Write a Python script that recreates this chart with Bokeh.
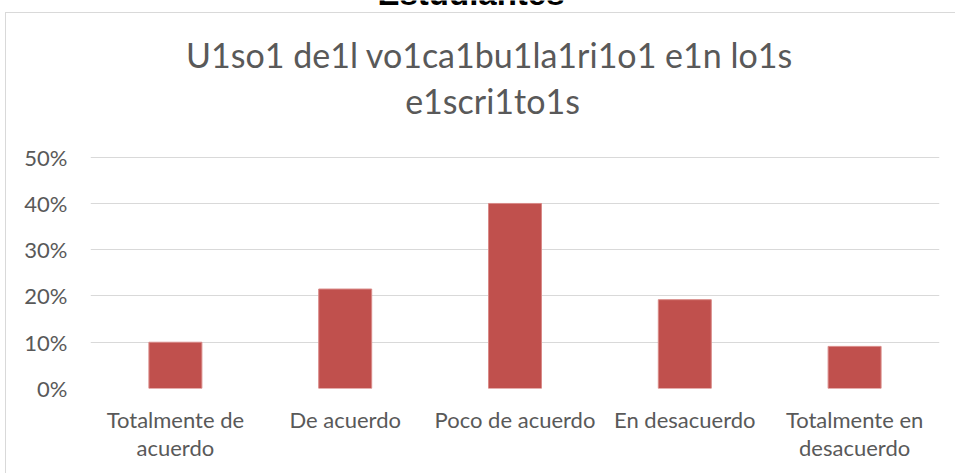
from bokeh.plotting import figure
from bokeh.models import (FactorRange, Range1d, FixedTicker, NumeralTickFormatter,
                          Label, ColumnDataSource)
from bokeh.embed import file_html
from bokeh.resources import INLINE

categories = ["Totalmente de\nacuerdo", "De acuerdo", "Poco de acuerdo",
              "En desacuerdo", "Totalmente en\ndesacuerdo"]
values = [0.10, 0.215, 0.40, 0.192, 0.091]
y_ticks = [0, 0.1, 0.2, 0.3, 0.4, 0.5]
title_lines = ["U1so1 de1l vo1ca1bu1la1ri1o1 e1n lo1s", "e1scri1to1s"]
top_title = "Estudiantes"

FONT = "Lato"
GREY = "#595959"
BORDER = "#d9d9d9"

W, H = 955, 473
LEFT, RIGHT, BOTTOM_PX = 90, 939, 388
PX_PER_TENTH = 46.26
y_top = BOTTOM_PX / (PX_PER_TENTH * 10)

p = figure(x_range=FactorRange(factors=categories, range_padding=0),
           y_range=Range1d(0, y_top),
           width=W, height=H, output_backend="svg", toolbar_location=None,
           min_border_left=LEFT, min_border_right=W - RIGHT, min_border_top=0,
           min_border_bottom=H - BOTTOM_PX)
p.border_fill_color = None
p.background_fill_color = None
p.styles = {
    "background": (f"linear-gradient({BORDER},{BORDER}) 5px 12px / 960px 1px no-repeat, "
                   f"linear-gradient({BORDER},{BORDER}) 5px 12px / 1px 470px no-repeat, white")
}

src = ColumnDataSource(dict(x=categories, top=values))
p.vbar(x="x", top="top", width=0.312, source=src, fill_color="#c0504d",
       line_color="#d98a88", line_width=1)

p.outline_line_color = None
p.xgrid.grid_line_color = None
p.ygrid.grid_line_color = BORDER
p.ygrid.grid_line_width = 1
p.ygrid.ticker = FixedTicker(ticks=y_ticks)

p.yaxis.ticker = FixedTicker(ticks=y_ticks)
p.yaxis.formatter = NumeralTickFormatter(format="0%")
p.yaxis.axis_line_color = None
p.yaxis.major_tick_line_color = None
p.yaxis.minor_tick_line_color = None
p.yaxis.major_tick_out = 0
p.yaxis.major_tick_in = 0
p.yaxis.minor_tick_out = 0
p.yaxis.major_label_standoff = 23
p.yaxis.major_label_text_font = FONT
p.yaxis.major_label_text_font_size = "22px"
p.yaxis.major_label_text_color = GREY

p.xaxis.axis_line_color = None
p.xaxis.major_tick_line_color = None
p.xaxis.major_tick_out = 0
p.xaxis.major_tick_in = 0
p.xaxis.major_label_standoff = 17
p.xaxis.major_label_text_font = FONT
p.xaxis.major_label_text_font_size = "22px"
p.xaxis.major_label_text_color = GREY
p.xaxis.major_label_text_line_height = 1.07


def ydata(py):
    return (BOTTOM_PX - py) / (PX_PER_TENTH * 10)


def xdata(px):
    return (px - LEFT) / ((RIGHT - LEFT) / len(categories))


SHIFT = 14  # compensates the renderer's baseline offset
p.add_layout(Label(x=xdata(489), y=ydata(67.7 - SHIFT), text=title_lines[0], text_align="center",
                   text_baseline="alphabetic", text_font=FONT, text_font_size="34px",
                   text_color=GREY))
p.add_layout(Label(x=xdata(492), y=ydata(114.3 - SHIFT), text=title_lines[1], text_align="center",
                   text_baseline="alphabetic", text_font=FONT, text_font_size="34px",
                   text_color=GREY))
p.add_layout(Label(x=xdata(470.5), y=ydata(6.5 - SHIFT), text=top_title, text_align="center",
                   text_baseline="alphabetic", text_font="Liberation Sans",
                   text_font_style="bold", text_font_size="33px", text_color="black"))

open("out.html", "w").write(file_html(p, INLINE))
